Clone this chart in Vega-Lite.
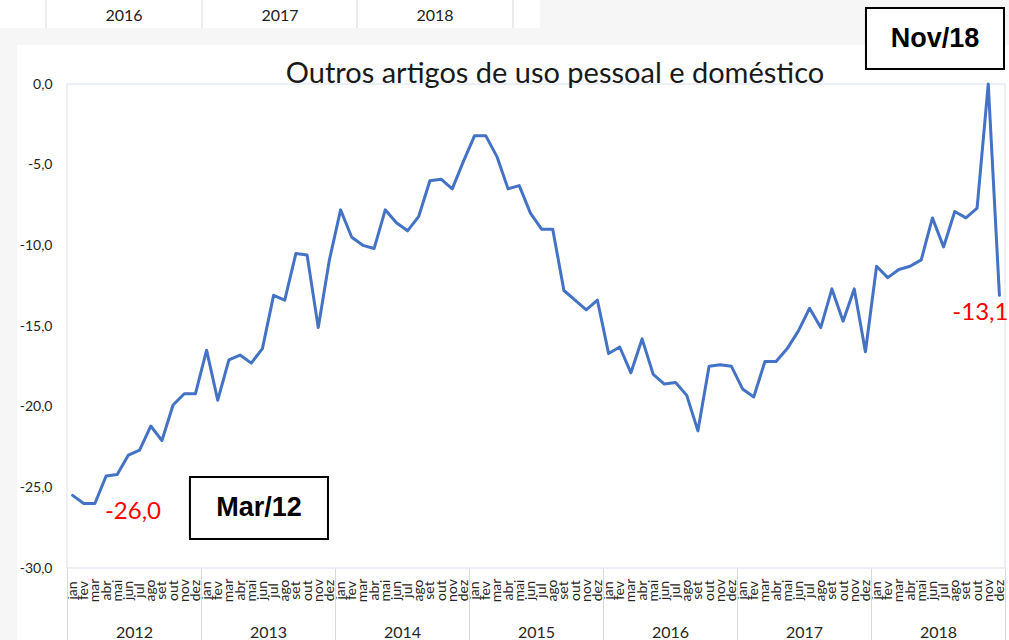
{
  "$schema": "https://vega.github.io/schema/vega-lite/v6.json",
  "width": 938,
  "height": 484,
  "autosize": {"type": "none"},
  "padding": {"left": 67, "top": 84, "right": 4, "bottom": 72},
  "background": "#ffffff",
  "datasets": {
    "serie": [
      {"periodo": "2012-01", "v": -25.5}, {"periodo": "2012-02", "v": -26.0}, {"periodo": "2012-03", "v": -26.0},
      {"periodo": "2012-04", "v": -24.3}, {"periodo": "2012-05", "v": -24.2}, {"periodo": "2012-06", "v": -23.0},
      {"periodo": "2012-07", "v": -22.7}, {"periodo": "2012-08", "v": -21.2}, {"periodo": "2012-09", "v": -22.1},
      {"periodo": "2012-10", "v": -19.9}, {"periodo": "2012-11", "v": -19.2}, {"periodo": "2012-12", "v": -19.2},
      {"periodo": "2013-01", "v": -16.5}, {"periodo": "2013-02", "v": -19.6}, {"periodo": "2013-03", "v": -17.1},
      {"periodo": "2013-04", "v": -16.8}, {"periodo": "2013-05", "v": -17.3}, {"periodo": "2013-06", "v": -16.4},
      {"periodo": "2013-07", "v": -13.1}, {"periodo": "2013-08", "v": -13.4}, {"periodo": "2013-09", "v": -10.5},
      {"periodo": "2013-10", "v": -10.6}, {"periodo": "2013-11", "v": -15.1}, {"periodo": "2013-12", "v": -10.9},
      {"periodo": "2014-01", "v": -7.8}, {"periodo": "2014-02", "v": -9.5}, {"periodo": "2014-03", "v": -10.0},
      {"periodo": "2014-04", "v": -10.2}, {"periodo": "2014-05", "v": -7.8}, {"periodo": "2014-06", "v": -8.6},
      {"periodo": "2014-07", "v": -9.1}, {"periodo": "2014-08", "v": -8.2}, {"periodo": "2014-09", "v": -6.0},
      {"periodo": "2014-10", "v": -5.9}, {"periodo": "2014-11", "v": -6.5}, {"periodo": "2014-12", "v": -4.8},
      {"periodo": "2015-01", "v": -3.2}, {"periodo": "2015-02", "v": -3.2}, {"periodo": "2015-03", "v": -4.5},
      {"periodo": "2015-04", "v": -6.5}, {"periodo": "2015-05", "v": -6.3}, {"periodo": "2015-06", "v": -8.0},
      {"periodo": "2015-07", "v": -9.0}, {"periodo": "2015-08", "v": -9.0}, {"periodo": "2015-09", "v": -12.8},
      {"periodo": "2015-10", "v": -13.4}, {"periodo": "2015-11", "v": -14.0}, {"periodo": "2015-12", "v": -13.4},
      {"periodo": "2016-01", "v": -16.7}, {"periodo": "2016-02", "v": -16.3}, {"periodo": "2016-03", "v": -17.9},
      {"periodo": "2016-04", "v": -15.8}, {"periodo": "2016-05", "v": -18.0}, {"periodo": "2016-06", "v": -18.6},
      {"periodo": "2016-07", "v": -18.5}, {"periodo": "2016-08", "v": -19.3}, {"periodo": "2016-09", "v": -21.5},
      {"periodo": "2016-10", "v": -17.5}, {"periodo": "2016-11", "v": -17.4}, {"periodo": "2016-12", "v": -17.5},
      {"periodo": "2017-01", "v": -18.9}, {"periodo": "2017-02", "v": -19.4}, {"periodo": "2017-03", "v": -17.2},
      {"periodo": "2017-04", "v": -17.2}, {"periodo": "2017-05", "v": -16.4}, {"periodo": "2017-06", "v": -15.3},
      {"periodo": "2017-07", "v": -13.9}, {"periodo": "2017-08", "v": -15.1}, {"periodo": "2017-09", "v": -12.7},
      {"periodo": "2017-10", "v": -14.7}, {"periodo": "2017-11", "v": -12.7}, {"periodo": "2017-12", "v": -16.6},
      {"periodo": "2018-01", "v": -11.3}, {"periodo": "2018-02", "v": -12.0}, {"periodo": "2018-03", "v": -11.5},
      {"periodo": "2018-04", "v": -11.3}, {"periodo": "2018-05", "v": -10.9}, {"periodo": "2018-06", "v": -8.3},
      {"periodo": "2018-07", "v": -10.1}, {"periodo": "2018-08", "v": -7.9}, {"periodo": "2018-09", "v": -8.3},
      {"periodo": "2018-10", "v": -7.7}, {"periodo": "2018-11", "v": 0.0}, {"periodo": "2018-12", "v": -13.1}
    ]
  },
  "resolve": {"axis": {"x": "independent", "y": "independent"}},
  "layer": [
    {
      "data": {"values": [{}]},
      "mark": {"type": "rect", "fill": "#f6f6f6"},
      "encoding": {
        "x": {"datum": -10, "type": "quantitative", "axis": null},
        "x2": {"datum": -3.98},
        "y": {"datum": 3.47, "type": "quantitative", "axis": null},
        "y2": {"datum": -40}
      }
    },
    {
      "data": {"values": [{}]},
      "mark": {"type": "rect", "fill": "#f6f6f6"},
      "encoding": {
        "x": {"datum": -10, "type": "quantitative", "axis": null},
        "x2": {"datum": 90},
        "y": {"datum": 3.47, "type": "quantitative", "axis": null},
        "y2": {"datum": 2.42}
      }
    },
    {
      "data": {"values": [{}]},
      "mark": {"type": "rect", "fill": "#f6f6f6"},
      "encoding": {
        "x": {"datum": 42.86, "type": "quantitative", "axis": null},
        "x2": {"datum": 90},
        "y": {"datum": 10, "type": "quantitative", "axis": null},
        "y2": {"datum": 3.47}
      }
    },
    {
      "data": {"values": [{}]},
      "mark": {"type": "rule", "stroke": "#d9d9d9", "strokeWidth": 1},
      "encoding": {
        "x": {"datum": -1.38, "type": "quantitative", "axis": null},
        "y": {"datum": 6, "type": "quantitative", "axis": null},
        "y2": {"datum": 3.47}
      }
    },
    {
      "data": {"values": [{}]},
      "mark": {"type": "rule", "stroke": "#d9d9d9", "strokeWidth": 1},
      "encoding": {
        "x": {"datum": 12.59, "type": "quantitative", "axis": null},
        "y": {"datum": 6, "type": "quantitative", "axis": null},
        "y2": {"datum": 3.47}
      }
    },
    {
      "data": {"values": [{}]},
      "mark": {"type": "rule", "stroke": "#d9d9d9", "strokeWidth": 1},
      "encoding": {
        "x": {"datum": 26.47, "type": "quantitative", "axis": null},
        "y": {"datum": 6, "type": "quantitative", "axis": null},
        "y2": {"datum": 3.47}
      }
    },
    {
      "data": {"values": [{}]},
      "mark": {"type": "rule", "stroke": "#d9d9d9", "strokeWidth": 1},
      "encoding": {
        "x": {"datum": 40.44, "type": "quantitative", "axis": null},
        "y": {"datum": 6, "type": "quantitative", "axis": null},
        "y2": {"datum": 3.47}
      }
    },
    {
      "data": {"values": [{}]},
      "mark": {"type": "text", "text": "2016", "font": "Lato", "fontSize": 16, "color": "#222222", "baseline": "middle", "align": "center"},
      "encoding": {
        "x": {"datum": 5.6, "type": "quantitative", "axis": null},
        "y": {"datum": 4.21, "type": "quantitative", "axis": null}
      }
    },
    {
      "data": {"values": [{}]},
      "mark": {"type": "text", "text": "2017", "font": "Lato", "fontSize": 16, "color": "#222222", "baseline": "middle", "align": "center"},
      "encoding": {
        "x": {"datum": 19.57, "type": "quantitative", "axis": null},
        "y": {"datum": 4.21, "type": "quantitative", "axis": null}
      }
    },
    {
      "data": {"values": [{}]},
      "mark": {"type": "text", "text": "2018", "font": "Lato", "fontSize": 16, "color": "#222222", "baseline": "middle", "align": "center"},
      "encoding": {
        "x": {"datum": 33.46, "type": "quantitative", "axis": null},
        "y": {"datum": 4.21, "type": "quantitative", "axis": null}
      }
    },
    {
      "data": {"values": [{}]},
      "mark": {"type": "rect", "filled": false, "stroke": "#d9dfec", "strokeWidth": 1},
      "encoding": {
        "x": {"datum": 0.5, "type": "quantitative", "axis": null},
        "x2": {"datum": 84.5},
        "y": {"datum": -30, "type": "quantitative", "axis": null},
        "y2": {"datum": 0}
      }
    },
    {
      "data": {"values": [{}]},
      "mark": {"type": "text", "text": "Outros artigos de uso pessoal e doméstico", "font": "Lato", "fontSize": 29, "color": "#1a1a1a", "baseline": "alphabetic", "align": "center", "dy": -1},
      "encoding": {
        "x": {"datum": 44.2, "type": "quantitative", "axis": null},
        "y": {"datum": 0, "type": "quantitative", "axis": null}
      }
    },
    {
      "data": {"name": "serie"},
      "transform": [{"window": [{"op": "row_number", "as": "ordem"}]}],
      "mark": {"type": "line", "color": "#4472c4", "strokeWidth": 3, "strokeJoin": "round", "strokeCap": "round"},
      "encoding": {
        "x": {
          "field": "ordem", "type": "quantitative",
          "scale": {"domain": [0.5, 84.5], "nice": false, "zero": false},
          "axis": {
            "orient": "bottom", "title": null, "domain": false, "ticks": false, "tickSize": 0, "grid": false, "zindex": 2,
            "values": [1,2,3,4,5,6,7,8,9,10,11,12,13,14,15,16,17,18,19,20,21,22,23,24,25,26,27,28,29,30,31,32,33,34,35,36,37,38,39,40,41,42,43,44,45,46,47,48,49,50,51,52,53,54,55,56,57,58,59,60,61,62,63,64,65,66,67,68,69,70,71,72,73,74,75,76,77,78,79,80,81,82,83,84],
            "labelExpr": "['jan','fev','mar','abr','mai','jun','jul','ago','set','out','nov','dez'][(datum.value - 1) % 12]",
            "labelAngle": -90, "labelAlign": "center", "labelBaseline": "middle",
            "labelPadding": 22, "labelFontSize": 14, "labelFont": "Lato", "labelColor": "#262626",
            "labelOverlap": false, "labelFlush": false, "labelBound": false
          }
        },
        "y": {
          "field": "v", "type": "quantitative",
          "scale": {"domain": [-30, 0], "nice": false, "zero": false},
          "axis": {
            "orient": "left", "title": null, "domain": false, "ticks": false, "tickSize": 0, "grid": false, "zindex": 2,
            "values": [-30, -25, -20, -15, -10, -5, 0], "format": ".1f",
            "labelPadding": 15, "labelFontSize": 14, "labelFont": "Lato", "labelColor": "#262626"
          }
        }
      }
    },
    {
      "data": {"name": "serie"},
      "transform": [{"window": [{"op": "row_number", "as": "ordem"}]}],
      "mark": {"type": "point", "opacity": 0},
      "encoding": {
        "x": {
          "field": "ordem", "type": "quantitative",
          "axis": {
            "orient": "bottom", "title": null, "domain": false, "labels": false, "grid": false, "zindex": 2,
            "ticks": true, "tickSize": 72, "tickColor": "#d9d9d9", "tickWidth": 1,
            "values": [0.5, 12.5, 24.5, 36.5, 48.5, 60.5, 72.5, 84.5]
          }
        }
      }
    },
    {
      "data": {"name": "serie"},
      "transform": [{"window": [{"op": "row_number", "as": "ordem"}]}],
      "mark": {"type": "point", "opacity": 0},
      "encoding": {
        "x": {
          "field": "ordem", "type": "quantitative",
          "axis": {
            "orient": "bottom", "title": null, "domain": false, "ticks": false, "tickSize": 0, "grid": false, "zindex": 2,
            "values": [6.5, 18.5, 30.5, 42.5, 54.5, 66.5, 78.5],
            "labelExpr": "'' + (2012 + floor(datum.value / 12))",
            "labelPadding": 64, "labelBaseline": "middle", "labelAlign": "center",
            "labelFontSize": 16, "labelFont": "Lato", "labelColor": "#262626",
            "labelOverlap": false, "labelFlush": false
          }
        }
      }
    },
    {
      "data": {"name": "serie"},
      "transform": [{"window": [{"op": "row_number", "as": "ordem"}]}, {"filter": "datum.periodo == '2012-03'"}],
      "mark": {"type": "text", "color": "#ff0000", "font": "Lato", "fontSize": 24, "align": "left", "baseline": "middle", "dx": 10, "dy": 9},
      "encoding": {
        "x": {"field": "ordem", "type": "quantitative", "axis": null},
        "y": {"field": "v", "type": "quantitative", "axis": null},
        "text": {"field": "v", "type": "quantitative", "format": ".1f"}
      }
    },
    {
      "data": {"name": "serie"},
      "transform": [{"window": [{"op": "row_number", "as": "ordem"}]}, {"filter": "datum.periodo == '2018-12'"}],
      "mark": {"type": "text", "color": "#ff0000", "font": "Lato", "fontSize": 24, "align": "center", "baseline": "middle", "dx": -19, "dy": 18},
      "encoding": {
        "x": {"field": "ordem", "type": "quantitative", "axis": null},
        "y": {"field": "v", "type": "quantitative", "axis": null},
        "text": {"field": "v", "type": "quantitative", "format": ".1f"}
      }
    },
    {
      "data": {"values": [{}]},
      "mark": {"type": "rect", "fill": "#ffffff", "stroke": "#000000", "strokeWidth": 2},
      "encoding": {
        "x": {"datum": 72.05, "type": "quantitative", "axis": null},
        "x2": {"datum": 84.41},
        "y": {"datum": 4.71, "type": "quantitative", "axis": null},
        "y2": {"datum": 0.93}
      }
    },
    {
      "data": {"values": [{}]},
      "mark": {"type": "rect", "fill": "#ffffff", "stroke": "#000000", "strokeWidth": 2},
      "encoding": {
        "x": {"datum": 11.51, "type": "quantitative", "axis": null},
        "x2": {"datum": 23.87},
        "y": {"datum": -24.36, "type": "quantitative", "axis": null},
        "y2": {"datum": -28.2}
      }
    },
    {
      "data": {"values": [{}]},
      "mark": {"type": "text", "text": "Nov/18", "font": "Liberation Sans", "fontWeight": "bold", "fontSize": 27, "color": "#000000", "align": "center", "baseline": "middle"},
      "encoding": {
        "x": {"datum": 78.23, "type": "quantitative", "axis": null},
        "y": {"datum": 2.82, "type": "quantitative", "axis": null}
      }
    },
    {
      "data": {"values": [{}]},
      "mark": {"type": "text", "text": "Mar/12", "font": "Liberation Sans", "fontWeight": "bold", "fontSize": 27, "color": "#000000", "align": "center", "baseline": "middle"},
      "encoding": {
        "x": {"datum": 17.69, "type": "quantitative", "axis": null},
        "y": {"datum": -26.28, "type": "quantitative", "axis": null}
      }
    }
  ],
  "config": {
    "view": {"stroke": null},
    "axis": {"grid": false},
    "locale": {
      "number": {"decimal": ",", "thousands": ".", "grouping": [3], "currency": ["R$", ""], "minus": "-"}
    }
  }
}
